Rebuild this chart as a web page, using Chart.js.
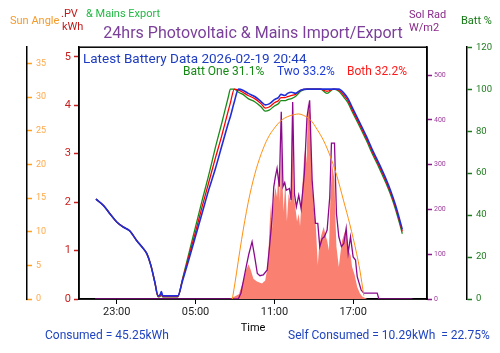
<!DOCTYPE html>
<html>
<head>
<meta charset="utf-8">
<script src="https://cdn.jsdelivr.net/npm/chart.js@4/dist/chart.umd.min.js"></script>
<style>
  html, body { margin: 0; padding: 0; background: #fff; }
</style>
</head>
<body>
<canvas id="chart" width="500" height="353"></canvas>
<script>
// time axis is in hours from midnight of the first day (24+ = next day)
const timeTickHours = [23, 29, 35, 41];
const timeTickLabels = ['23:00', '05:00', '11:00', '17:00'];

const battHours = [21.42, 22, 22.5, 23, 23.5, 24, 24.5, 25, 25.3, 25.6, 25.9, 26.15, 26.3, 26.4, 26.5, 27, 27.65, 28, 28.5, 29, 29.5, 30, 30.5, 31, 31.5, 31.65, 31.95, 32.27, 32.6, 33, 33.5, 34, 34.3, 34.6, 35, 35.3, 35.5, 35.8, 36, 36.3, 36.6, 37, 37.5, 38, 38.5, 39, 39.5, 39.9, 40.3, 40.6, 40.9, 41.5, 42, 42.5, 43, 43.5, 43.85, 44.2, 44.5, 44.73];
const battTwo = [47.6, 44.5, 40.5, 36.7, 34.3, 32.4, 28, 24.2, 21.5, 16, 8, 1.5, 2, 3.5, 1.5, 1.5, 1.5, 8.5, 19, 30, 41, 52, 62, 73, 84, 87, 94, 100, 99.5, 98, 96.5, 94, 92.5, 93, 95, 96, 97.5, 97, 98, 98.5, 98, 99.5, 100, 100, 100, 100, 100, 100, 98, 95.5, 91.6, 84, 77.5, 70.5, 64, 57, 51.5, 45, 38.5, 33.2];
const battBoth = [47.6, 44.5, 40.5, 36.7, 34.3, 32.4, 28, 24.2, 21.5, 16, 8, 1.2, 1.5, 2.5, 1.2, 1.2, 1.2, 9, 20.5, 32, 44, 55.5, 67, 78, 90, 93.5, 100, 99.5, 98.5, 97, 95.5, 93, 91, 91.5, 93.5, 94.5, 96, 96, 96.5, 97, 97.5, 99.5, 100, 100, 100, 99, 100, 99.5, 97, 94.5, 90.5, 83, 76.5, 69.5, 63, 56, 50.5, 44, 37.5, 32.2];
const battOne = [47.6, 44.5, 40.5, 36.7, 34.3, 32.4, 28, 24.2, 21.5, 16, 8, 1, 1.2, 1.8, 1, 1, 1, 9.5, 22, 34.5, 47, 59, 72, 84, 96.5, 100, 100, 98.5, 97.5, 95.5, 94, 91.5, 89.5, 90, 92, 93, 94.5, 94.5, 95, 95.5, 96.5, 99, 100, 100, 100, 98, 100, 99, 96, 93.5, 89.5, 82, 75.5, 68.5, 62, 55, 49.5, 43, 36.5, 31.1];

const sunHours = [31.8, 32.0, 32.5, 33.0, 33.5, 34.0, 34.5, 35.0, 35.5, 36.0, 36.5, 36.85, 37.2, 37.75, 38.25, 38.75, 39.25, 39.75, 40.25, 40.75, 41.25, 41.5, 41.8];
const sunAngle = [0, 2.4, 8.8, 14.3, 18.5, 21.6, 23.9, 25.4, 26.5, 27.1, 27.4, 27.5, 27.3, 26.6, 25.2, 23.5, 21.2, 18.3, 14.7, 11, 6.8, 4.3, 0.5];

const solHours = [21.35, 32.25, 32.45, 32.65, 32.85, 33.05, 33.3, 33.5, 33.7, 33.9, 34.15, 34.45, 34.65, 34.82, 34.95, 35.07, 35.2, 35.37, 35.52, 35.65, 35.78, 35.9, 36.14, 36.27, 36.39, 36.52, 36.67, 36.85, 37.03, 37.28, 37.48, 37.68, 37.87, 38.12, 38.3, 38.45, 38.63, 38.8, 39.01, 39.21, 39.34, 39.57, 39.72, 39.9, 40.1, 40.28, 40.46, 40.61, 40.79, 40.99, 41.17, 41.3, 41.6, 41.8, 42.82, 42.95, 45.5];
const solRad = [0, 0, 13, 42, 72, 100, 128, 94, 57, 52, 54, 65, 124, 180, 250, 273, 292, 251, 418, 251, 260, 243, 247, 221, 440, 236, 206, 232, 202, 281, 407, 444, 266, 169, 169, 117, 135, 139, 154, 228, 348, 348, 191, 139, 117, 124, 158, 102, 139, 94, 87, 50, 20, 13, 13, 0, 0];

const pvHours = [31.6, 32.3, 32.65, 32.85, 33.03, 33.2, 33.4, 33.67, 34.05, 34.3, 34.5, 34.65, 34.75, 34.82, 34.92, 35.07, 35.2, 35.32, 35.42, 35.52, 35.6, 35.7, 35.83, 35.95, 36.08, 36.25, 36.34, 36.45, 36.59, 36.72, 36.85, 36.95, 37.11, 37.25, 37.36, 37.45, 37.54, 37.74, 37.85, 37.99, 38.15, 38.3, 38.4, 38.55, 38.75, 38.9, 39.01, 39.15, 39.26, 39.39, 39.57, 39.65, 39.72, 39.9, 40.0, 40.15, 40.4, 40.55, 40.66, 40.8, 40.91, 41.1, 41.3, 41.5, 41.68, 42.06];
const pvKwh = [0, 0.1, 0.39, 0.6, 0.72, 0.6, 0.42, 0.36, 0.32, 0.38, 0.7, 1.6, 2.0, 1.45, 1.95, 2.31, 2.1, 2.65, 2.0, 3.3, 2.5, 1.8, 2.45, 1.6, 2.17, 2.0, 3.85, 2.2, 1.9, 1.6, 1.76, 1.5, 2.24, 2.9, 3.13, 2.8, 4.03, 3.82, 2.5, 1.9, 1.5, 0.7, 1.08, 1.3, 1.49, 1.3, 1.21, 1.0, 2.1, 2.79, 2.45, 1.6, 1.08, 0.66, 0.9, 1.21, 1.42, 1.2, 1.0, 0.9, 0.66, 0.5, 0.25, 0.12, 0.05, 0];

const pts = (xs, ys) => xs.map((x, i) => ({ x: x, y: ys[i] }));

// free text: header axis labels, battery summary, totals
const notes = [
    { t: 'Sun Angle', x: 10, y: 21, c: '#f59a2a', s: 11 },
    { t: '.PV', x: 61, y: 14, c: '#c21a1a', s: 11 },
    { t: 'kWh', x: 62, y: 27, c: '#c21a1a', s: 11 },
    { t: '& Mains Export', x: 86, y: 14, c: '#22b843', s: 11 },
    { t: 'Sol Rad', x: 409, y: 15, c: '#8a2a8a', s: 11 },
    { t: 'W/m2', x: 409, y: 28, c: '#8a2a8a', s: 11 },
    { t: 'Batt %', x: 461, y: 21, c: '#147a14', s: 11 },
    { t: 'Latest Battery Data 2026-02-19 20:44', x: 83, y: 60, c: '#1e3cc0', s: 13.5 },
    { t: 'Batt One 31.1%', x: 183, y: 72, c: '#148a14', s: 12 },
    { t: 'Two 33.2%', x: 277, y: 72, c: '#1e3cd8', s: 12 },
    { t: 'Both 32.2%', x: 347, y: 72, c: '#ff1a1a', s: 12 },
    { t: 'Consumed = 45.25kWh', x: 45, y: 336, c: '#2044c0', s: 12 },
    { t: 'Self Consumed = 10.29kWh  = 22.75%', x: 288, y: 336, c: '#2044c0', s: 12 }
];

const frameAndNotes = {
    id: 'frameAndNotes',
    beforeDatasetsDraw(chart) {
        const ctx = chart.ctx;
        const a = chart.chartArea;
        ctx.save();
        ctx.strokeStyle = '#000';
        ctx.lineWidth = 1.5;
        ctx.strokeRect(a.left, a.top, a.right - a.left, a.bottom - a.top);
        ctx.restore();
    },
    afterDraw(chart) {
        const ctx = chart.ctx;
        ctx.save();
        ctx.textBaseline = 'middle';
        ctx.textAlign = 'left';
        notes.forEach(n => {
            ctx.font = n.s + 'px Roboto';
            ctx.fillStyle = n.c;
            ctx.fillText(n.t, n.x, n.y);
        });
        ctx.restore();
    }
};

Chart.defaults.font.family = 'Roboto';

new Chart(document.getElementById('chart').getContext('2d'), {
    type: 'line',
    data: {
        datasets: [
            { label: 'Two', data: pts(battHours, battTwo), yAxisID: 'batt', borderColor: '#1f2ed8', borderWidth: 1.6, cubicInterpolationMode: 'monotone' },
            { label: 'Both', data: pts(battHours, battBoth), yAxisID: 'batt', borderColor: '#ff0000', borderWidth: 1.3, cubicInterpolationMode: 'monotone' },
            { label: 'One', data: pts(battHours, battOne), yAxisID: 'batt', borderColor: '#1a8a1a', borderWidth: 1.3, cubicInterpolationMode: 'monotone' },
            { label: 'Sun Angle', data: pts(sunHours, sunAngle), yAxisID: 'sun', borderColor: '#ff9010', borderWidth: 1, cubicInterpolationMode: 'monotone' },
            { label: 'Sol Rad', data: pts(solHours, solRad), yAxisID: 'rad', borderColor: '#8b0a8b', borderWidth: 1.3 },
            { label: 'PV', data: pts(pvHours, pvKwh), yAxisID: 'pv', borderWidth: 0, borderColor: 'rgba(0,0,0,0)', backgroundColor: '#fa8072', fill: 'origin' }
        ]
    },
    options: {
        responsive: false,
        animation: false,
        elements: { point: { radius: 0 } },
        layout: { padding: { left: 0, right: 0, top: 0, bottom: 14 } },
        plugins: {
            legend: { display: false },
            tooltip: { enabled: false },
            title: {
                display: true,
                fullSize: false,
                text: '24hrs Photovoltaic & Mains Import/Export',
                color: '#7b3f9a',
                font: { size: 16, weight: 'normal' },
                padding: { top: 24, bottom: 4 }
            }
        },
        scales: {
            x: {
                type: 'linear',
                min: 20.13,
                max: 46.61,
                afterBuildTicks: s => { s.ticks = timeTickHours.map(v => ({ value: v })); },
                ticks: {
                    autoSkip: false, maxRotation: 0, padding: 2, color: '#222', font: { size: 11 },
                    callback: v => timeTickLabels[timeTickHours.indexOf(v)]
                },
                grid: { drawOnChartArea: false, tickLength: 5, tickColor: '#000' },
                border: { color: '#000', width: 1.5 },
                title: { display: true, text: 'Time', color: '#000', font: { size: 11 }, padding: { top: 0, bottom: 4 } },
                afterFit: s => { s.height = 40; }
            },
            sun: {
                type: 'linear', position: 'left', weight: 2, min: 0, max: 37.42,
                ticks: { stepSize: 5, includeBounds: false, mirror: true, padding: 9, color: '#ffa848', font: { size: 9 } },
                grid: { drawOnChartArea: false, tickLength: -5, tickColor: '#ff9f1a', tickWidth: 1.5 },
                border: { color: '#000', width: 1.5 },
                afterFit: s => { s.width = 27; }
            },
            pv: {
                type: 'linear', position: 'left', weight: 1, min: 0, max: 5.2,
                ticks: { stepSize: 1, includeBounds: false, padding: 3, color: '#c81e1e', font: { size: 11 } },
                grid: { drawOnChartArea: false, tickLength: 5, tickColor: '#c81e1e', tickWidth: 1.5 },
                border: { color: '#000', width: 1.5 },
                afterFit: s => { s.width = 52; }
            },
            rad: {
                type: 'linear', position: 'right', weight: 1, min: 0, max: 562.5,
                ticks: { stepSize: 100, includeBounds: false, padding: 2, color: '#a040a0', font: { size: 7 } },
                grid: { drawOnChartArea: false, tickLength: 5, tickColor: '#8b1a8b', tickWidth: 1.5 },
                border: { color: '#000', width: 1.5 },
                afterFit: s => { s.width = 40; }
            },
            batt: {
                type: 'linear', position: 'right', weight: 2, min: 0, max: 120,
                ticks: { stepSize: 20, includeBounds: false, padding: 4, color: '#1e7a1e', font: { size: 9.5 } },
                grid: { drawOnChartArea: false, tickLength: 5, tickColor: '#1e7a1e', tickWidth: 1.5 },
                border: { color: '#000', width: 1.5 },
                afterFit: s => { s.width = 33; }
            }
        }
    },
    plugins: [frameAndNotes]
});
</script>
</body>
</html>
